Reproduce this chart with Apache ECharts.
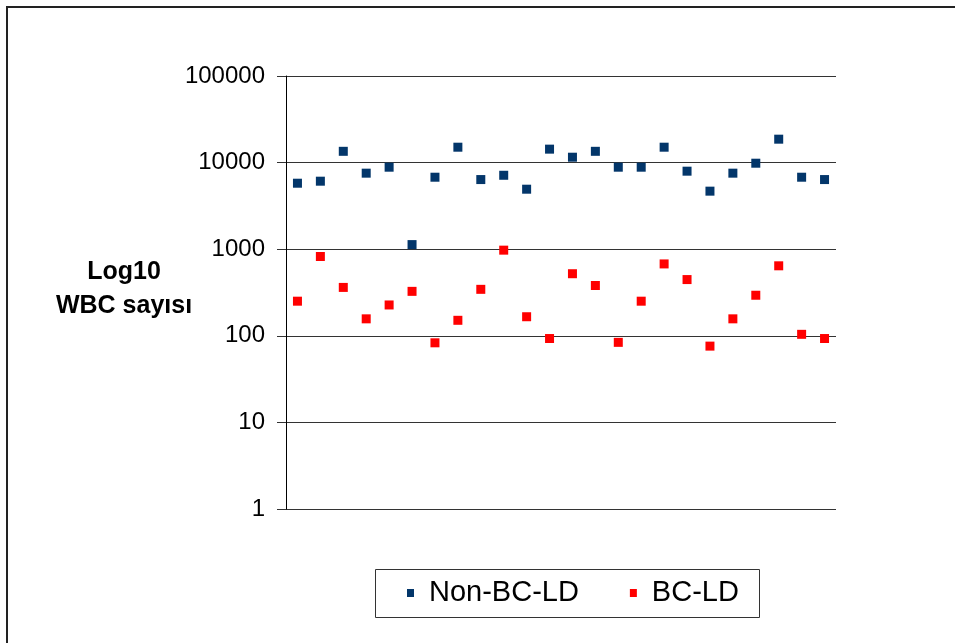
<!DOCTYPE html>
<html>
<head>
<meta charset="utf-8">
<script src="https://cdn.jsdelivr.net/npm/echarts@6/dist/echarts.min.js"></script>
<style>
  html, body { margin: 0; padding: 0; background: #fff; }
  #chart { width: 955px; height: 643px; }
</style>
</head>
<body>
<div id="chart"></div>
<script>
// Patient index along the x axis (labels not shown)
const categories = ['1','2','3','4','5','6','7','8','9','10','11','12',
                    '13','14','15','16','17','18','19','20','21','22','23','24'];

// WBC counts per patient
const nonBcLd = [5780, 6100, 13500, 7550, 8850, 1130, 6780, 15060, 6370, 7140, 4930, 14300,
                 11540, 13500, 8850, 8850, 15060, 7960, 4680, 7550, 9840, 18640, 6780, 6370];
const bcLd    = [251, 824, 362, 157, 227, 326, 83, 151, 344, 975, 166, 93,
                 521, 381, 84, 251, 676, 446, 76, 157, 294, 643, 104, 93];

const seriesNames = ['Non-BC-LD', 'BC-LD'];
const axisTitle = 'Log10\nWBC sayısı';

const FONT = 'Liberation Sans, Arial, sans-serif';

const chart = echarts.init(document.getElementById('chart'), null, { renderer: 'canvas' });

chart.setOption({
  animation: false,
  backgroundColor: '#ffffff',
  grid: { left: 286, right: 119, top: 76, bottom: 134, containLabel: false },
  graphic: [
    // outer frame (left and top edges visible)
    { type: 'rect', shape: { x: 7, y: 7, width: 1100, height: 1100 },
      style: { fill: 'none', stroke: '#222', lineWidth: 2 }, silent: true },
    // legend frame
    { type: 'rect', shape: { x: 375.5, y: 569.5, width: 384, height: 48 },
      style: { fill: '#fff', stroke: '#333', lineWidth: 1 }, silent: true, z: 0 },
    // y-axis title
    { type: 'text', x: 124, y: 289, style: {
        text: axisTitle, align: 'center', verticalAlign: 'middle',
        font: 'bold 25px ' + FONT, fill: '#000', lineHeight: 34 }, silent: true }
  ],
  legend: {
    data: seriesNames,
    left: 407,
    top: 578,
    padding: 0,
    itemGap: 51,
    itemWidth: 7,
    itemHeight: 8,
    icon: 'rect',
    z: 10,
    textStyle: { fontFamily: FONT, fontSize: 29, color: '#000', padding: [0, 0, 0, 10], lineHeight: 30 }
  },
  xAxis: {
    type: 'category',
    data: categories,
    boundaryGap: true,
    axisLine: { show: false },
    axisTick: { show: false },
    axisLabel: { show: false },
    splitLine: { show: false }
  },
  yAxis: {
    type: 'log',
    logBase: 10,
    min: 1,
    max: 100000,
    axisLine: { show: true, lineStyle: { color: '#000', width: 1 } },
    axisTick: { show: true, length: 9, lineStyle: { color: '#333' } },
    axisLabel: { fontFamily: FONT, fontSize: 24, color: '#000', margin: 21,
                 formatter: v => String(Math.round(v)) },
    splitLine: { show: true, lineStyle: { color: '#333', width: 1 } }
  },
  series: [
    {
      name: seriesNames[0], type: 'scatter', data: nonBcLd,
      symbol: 'rect', symbolSize: 9,
      itemStyle: { color: '#03366a', opacity: 1 }
    },
    {
      name: seriesNames[1], type: 'scatter', data: bcLd,
      symbol: 'rect', symbolSize: 9,
      itemStyle: { color: '#ff0000', opacity: 1 }
    }
  ]
});
</script>
</body>
</html>
